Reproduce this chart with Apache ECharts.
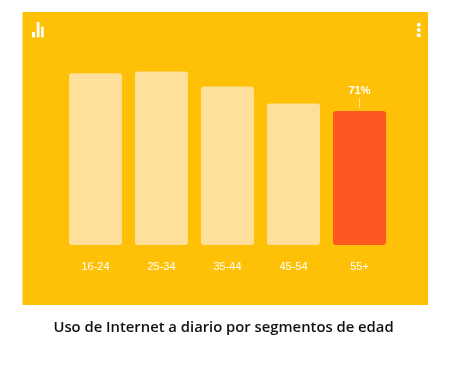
<!DOCTYPE html>
<html>
<head>
<meta charset="utf-8">
<script src="https://cdn.jsdelivr.net/npm/echarts@6/dist/echarts.min.js"></script>
<style>
  html, body { margin: 0; padding: 0; background: #fff; }
  #chart { width: 474px; height: 377px; }
</style>
</head>
<body>
<div id="chart"></div>
<script>
const categories = ['16-24', '25-34', '35-44', '45-54', '55+'];
const usageValues = [91, 92, 84, 75, 71];
const highlightIndex = 4;
const caption = 'Uso de Internet a diario por segmentos de edad';

const chart = echarts.init(document.getElementById('chart'), null, { renderer: 'canvas' });

const white = '#fff';
const panel = '#ffc107';

// small bar icon, top left
const iconBars = [
  { x: 32, y: 32, width: 3, height: 5.3 },
  { x: 36.7, y: 22, width: 2.8, height: 15.3 },
  { x: 41, y: 26.7, width: 2.7, height: 10.6 }
].map(function (s) {
  return { type: 'rect', shape: s, style: { fill: white } };
});

// menu dots, top right
const menuDots = [24.7, 30, 35.3].map(function (cy) {
  return { type: 'circle', shape: { cx: 418.8, cy: cy, r: 2 }, style: { fill: white } };
});

const option = {
  animation: false,
  backgroundColor: '#fff',
  title: {
    text: caption,
    left: 218.5,
    top: 315,
    textAlign: 'center',
    textStyle: {
      color: '#111',
      fontFamily: 'Open Sans',
      fontWeight: 600,
      fontSize: 14.8
    }
  },
  graphic: [
    {
      type: 'rect',
      z: -10,
      silent: true,
      shape: { x: 22.5, y: 12, width: 405.5, height: 293 },
      style: { fill: panel }
    }
  ].concat(iconBars, menuDots),
  grid: { left: 62.5, width: 330, top: 56.3, height: 188.7 },
  xAxis: {
    type: 'category',
    data: categories,
    axisLine: { show: false },
    axisTick: { show: false },
    axisLabel: {
      color: '#fff',
      fontFamily: 'Liberation Sans',
      fontSize: 11,
      margin: 16
    }
  },
  yAxis: {
    type: 'value',
    min: 0,
    max: 100,
    show: false
  },
  series: [
    {
      type: 'bar',
      barWidth: 53,
      z: 3,
      data: usageValues.map(function (v, i) {
        const hot = i === highlightIndex;
        return {
          value: v,
          itemStyle: {
            color: hot ? '#ff5722' : '#ffe09a',
            borderRadius: 3
          },
          label: {
            show: hot,
            position: 'top',
            distance: 15,
            formatter: '{c}%',
            color: '#fff',
            fontFamily: 'Liberation Sans',
            fontWeight: 'bold',
            fontSize: 11
          }
        };
      }),
      markLine: {
        silent: true,
        symbol: 'none',
        label: { show: false },
        lineStyle: { color: '#ffe09a', width: 1, type: 'solid' },
        data: [[
          { xAxis: categories[highlightIndex], yAxis: usageValues[highlightIndex] + 1.5 },
          { xAxis: categories[highlightIndex], yAxis: usageValues[highlightIndex] + 7 }
        ]]
      }
    }
  ]
};

chart.setOption(option);
</script>
</body>
</html>
